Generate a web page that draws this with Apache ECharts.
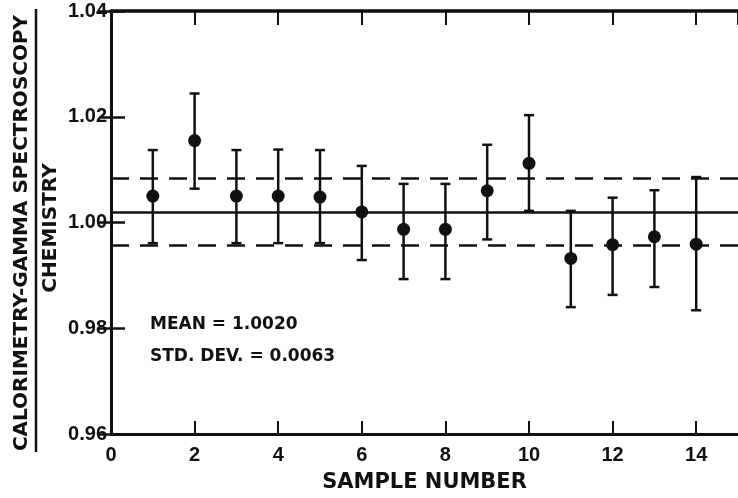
<!DOCTYPE html>
<html>
<head>
<meta charset="utf-8">
<script src="https://cdn.jsdelivr.net/npm/echarts@6/dist/echarts.min.js"></script>
<style>
  html, body { margin: 0; padding: 0; background: #fff; }
  #main { width: 738px; height: 498px; }
</style>
</head>
<body>
<div id="main"></div>
<script>
// sample data
var sampleNo = [1, 2, 3, 4, 5, 6, 7, 8, 9, 10, 11, 12, 13, 14];
var ratio    = [1.0050, 1.0155, 1.0050, 1.0050, 1.0048, 1.0020, 0.9987, 0.9987, 1.0060, 1.0112, 0.9932, 0.9958, 0.9973, 0.9959];
var errHigh  = [1.0137, 1.0244, 1.0137, 1.0138, 1.0137, 1.0107, 1.0073, 1.0073, 1.0147, 1.0203, 1.0022, 1.0047, 1.0061, 1.0086];
var errLow   = [0.9961, 1.0064, 0.9961, 0.9961, 0.9961, 0.9929, 0.9893, 0.9893, 0.9968, 1.0022, 0.9840, 0.9863, 0.9878, 0.9834];
var meanVal = 1.0020;
var stdDev = 0.0063;
var yTicks = [0.96, 0.98, 1.00, 1.02, 1.04];

var ink = '#111';
var font = 'DejaVu Sans';
var numFont = 'Liberation Sans';

var points = [], bars = [];
for (var i = 0; i < sampleNo.length; i++) {
    points.push([sampleNo[i], ratio[i]]);
    bars.push([sampleNo[i], errLow[i], errHigh[i]]);
}

var chart = echarts.init(document.getElementById('main'));

var option = {
    backgroundColor: '#fff',
    animation: false,
    grid: { left: 111, right: -3, top: 11, bottom: 55 },
    xAxis: [
        {
            type: 'value', min: 0, max: 15, interval: 2, position: 'bottom',
            axisLine: { lineStyle: { color: ink, width: 3 } },
            axisTick: { inside: true, length: 13, lineStyle: { color: ink, width: 2 } },
            axisLabel: { color: ink, fontFamily: numFont, fontSize: 20, fontWeight: 'bold', margin: 11, showMaxLabel: false },
            splitLine: { show: false },
            name: 'SAMPLE NUMBER', nameLocation: 'middle', nameGap: 38,
            nameTextStyle: { color: ink, fontFamily: font, fontSize: 21, fontWeight: 'bold' }
        },
        {
            type: 'value', min: 0, max: 15, interval: 2, position: 'top',
            axisLine: { lineStyle: { color: ink, width: 3.5 } },
            axisTick: { inside: true, length: 14, lineStyle: { color: ink, width: 2 } },
            axisLabel: { show: false },
            splitLine: { show: false }
        }
    ],
    yAxis: [
        {
            type: 'value', min: yTicks[0], max: yTicks[yTicks.length - 1], interval: 0.02, position: 'left',
            axisLine: { lineStyle: { color: ink, width: 3 } },
            axisTick: { inside: true, length: 14, lineStyle: { color: ink, width: 2.5 } },
            axisLabel: { color: ink, fontFamily: numFont, fontSize: 20, fontWeight: 'bold', margin: 4,
                formatter: function (v) { return v.toFixed(2); } },
            splitLine: { show: false }
        },
        {
            type: 'value', min: yTicks[0], max: yTicks[yTicks.length - 1], interval: 0.02, position: 'right',
            axisLine: { show: false },
            axisTick: { inside: true, length: 12, lineStyle: { color: ink, width: 2.5 } },
            axisLabel: { show: false },
            splitLine: { show: false }
        }
    ],
    graphic: [
        {
            type: 'text', x: 22, y: 233, rotation: Math.PI / 2,
            style: { text: 'CALORIMETRY-GAMMA SPECTROSCOPY', fill: ink, font: 'bold 20px "DejaVu Sans"',
                textAlign: 'center', textVerticalAlign: 'middle' }
        },
        {
            type: 'line', shape: { x1: 36, y1: 9, x2: 36, y2: 452 },
            style: { stroke: ink, lineWidth: 2.5 }
        },
        {
            type: 'text', x: 51, y: 228, rotation: Math.PI / 2,
            style: { text: 'CHEMISTRY', fill: ink, font: 'bold 20px "DejaVu Sans"',
                textAlign: 'center', textVerticalAlign: 'middle' }
        },
        {
            type: 'text', x: 150, y: 325,
            style: { text: 'MEAN = ' + meanVal.toFixed(4), fill: ink, font: 'bold 17px "DejaVu Sans"',
                textVerticalAlign: 'middle' }
        },
        {
            type: 'text', x: 150, y: 357,
            style: { text: 'STD. DEV. = ' + stdDev.toFixed(4), fill: ink, font: 'bold 17px "DejaVu Sans"',
                textVerticalAlign: 'middle' }
        }
    ],
    series: [
        {
            // error bars with caps
            type: 'custom',
            data: bars,
            renderItem: function (params, api) {
                var x = api.value(0);
                var lo = api.coord([x, api.value(1)]);
                var hi = api.coord([x, api.value(2)]);
                var cap = 5;
                var st = { stroke: ink, lineWidth: 2.5 };
                return {
                    type: 'group',
                    children: [
                        { type: 'line', shape: { x1: lo[0], y1: lo[1], x2: hi[0], y2: hi[1] }, style: st },
                        { type: 'line', shape: { x1: hi[0] - cap, y1: hi[1], x2: hi[0] + cap, y2: hi[1] }, style: st },
                        { type: 'line', shape: { x1: lo[0] - cap, y1: lo[1], x2: lo[0] + cap, y2: lo[1] }, style: st }
                    ]
                };
            },
            z: 3
        },
        {
            type: 'scatter',
            data: points,
            symbol: 'circle',
            symbolSize: 13,
            itemStyle: { color: ink, opacity: 1 },
            z: 4,
            markLine: {
                silent: true,
                symbol: 'none',
                precision: 4,
                label: { show: false },
                data: [
                    { yAxis: meanVal, lineStyle: { type: 'solid', width: 2.5, color: ink } },
                    { yAxis: meanVal + stdDev, lineStyle: { type: [18, 11], width: 2.5, color: ink } },
                    { yAxis: meanVal - stdDev, lineStyle: { type: [18, 11], width: 2.5, color: ink } }
                ]
            }
        }
    ]
};

chart.setOption(option);
</script>
</body>
</html>
